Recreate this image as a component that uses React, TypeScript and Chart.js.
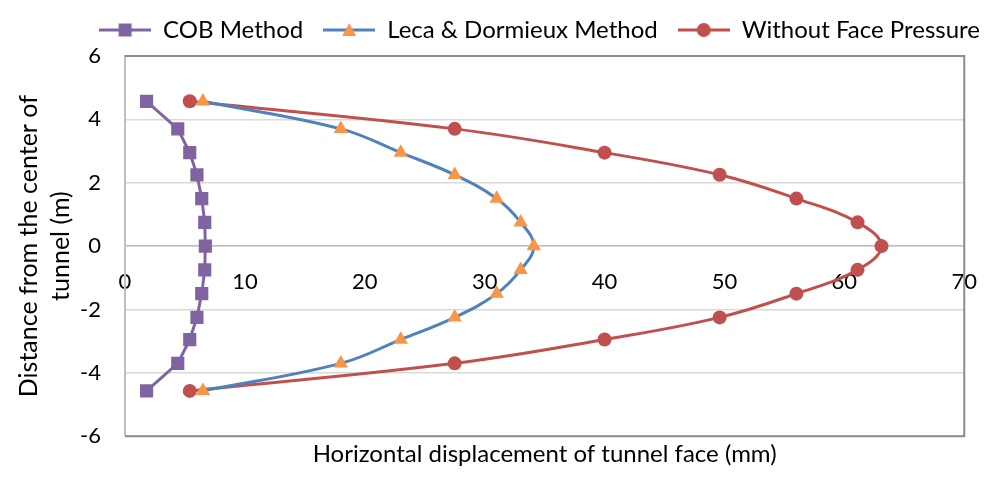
import { useEffect, useRef } from "react";
import { Chart, registerables } from "chart.js";

Chart.register(...registerables);

// Distance from the center of tunnel (m)
const yPositions = [4.57, 3.7, 2.95, 2.25, 1.5, 0.75, 0, -0.75, -1.5, -2.25, -2.95, -3.7, -4.57];
// Horizontal displacement of tunnel face (mm)
const cobValues = [1.8, 4.4, 5.4, 6.0, 6.4, 6.65, 6.7, 6.65, 6.4, 6.0, 5.4, 4.4, 1.8];
const lecaValues = [6.5, 18.0, 23.0, 27.5, 31.0, 33.0, 34.1, 33.0, 31.0, 27.5, 23.0, 18.0, 6.5];
const withoutValues = [5.4, 27.5, 40.0, 49.6, 56.0, 61.1, 63.1, 61.1, 56.0, 49.6, 40.0, 27.5, 5.4];

const seriesNames = ["COB Method", "Leca & Dormieux Method", "Without Face Pressure"];
const xTitle = "Horizontal displacement of tunnel face (mm)";
const yTitle = ["Distance from the center of", "tunnel (m)"];
const xRange = [0, 70, 10];
const yRange = [-6, 6, 2];

const PURPLE = "#8064A2";
const BLUE = "#4F81BD";
const ORANGE = "#F79646";
const RED = "#C0504D";
const FONT = "Lato";

function makeIcon(kind: string): HTMLCanvasElement {
  const c = document.createElement("canvas");
  c.width = 52;
  c.height = 16;
  const g = c.getContext("2d")!;
  const lineColor = kind === "rect" ? PURPLE : kind === "triangle" ? BLUE : RED;
  g.strokeStyle = lineColor;
  g.lineWidth = 3;
  g.beginPath();
  g.moveTo(0, 8);
  g.lineTo(52, 8);
  g.stroke();
  if (kind === "rect") {
    g.fillStyle = PURPLE;
    g.fillRect(26 - 6.5, 8 - 6.5, 13, 13);
  } else if (kind === "triangle") {
    g.fillStyle = ORANGE;
    g.beginPath();
    g.moveTo(26, 1);
    g.lineTo(33, 14);
    g.lineTo(19, 14);
    g.closePath();
    g.fill();
  } else {
    g.fillStyle = RED;
    g.beginPath();
    g.arc(26, 8, 7, 0, Math.PI * 2);
    g.fill();
  }
  return c;
}

const framePlugin = {
  id: "plotFrame",
  beforeDatasetsDraw(chart: any) {
    const { ctx, chartArea } = chart;
    const { left, top, right, bottom } = chartArea;
    ctx.save();
    ctx.strokeStyle = "#8C8C8C";
    ctx.lineWidth = 2;
    ctx.beginPath();
    ctx.moveTo(left, top);
    ctx.lineTo(right, top);
    ctx.lineTo(right, bottom);
    ctx.lineTo(left, bottom);
    ctx.stroke();
    ctx.restore();
  },
};

const spacerAxis = (position: string, size: number) => ({
  type: "linear",
  position,
  display: true,
  ticks: { display: false },
  grid: { display: false, drawTicks: false },
  border: { display: false },
  afterFit: (scale: any) => {
    if (position === "right") scale.width = size;
    else scale.height = size;
  },
});

export default function App() {
  const canvasRef = useRef<HTMLCanvasElement | null>(null);

  useEffect(() => {
    if (!canvasRef.current) return;
    const icons = [makeIcon("rect"), makeIcon("triangle"), makeIcon("circle")];
    const toPoints = (xs: number[]) => xs.map((x, i) => ({ x, y: yPositions[i] }));

    const chart = new Chart(canvasRef.current, {
      type: "scatter",
      data: {
        datasets: [
          {
            label: seriesNames[0],
            data: toPoints(cobValues),
            showLine: true,
            borderColor: PURPLE,
            backgroundColor: PURPLE,
            borderWidth: 3,
            tension: 0,
            pointStyle: "rect",
            pointRadius: 9.3,
            pointBorderWidth: 0,
            pointBackgroundColor: PURPLE,
            pointBorderColor: PURPLE,
          },
          {
            label: seriesNames[1],
            data: toPoints(lecaValues),
            showLine: true,
            borderColor: BLUE,
            backgroundColor: ORANGE,
            borderWidth: 3,
            tension: 0.4,
            pointStyle: "triangle",
            pointRadius: 8.3,
            pointBorderWidth: 0,
            pointBackgroundColor: ORANGE,
            pointBorderColor: ORANGE,
          },
          {
            label: seriesNames[2],
            data: toPoints(withoutValues),
            showLine: true,
            borderColor: RED,
            backgroundColor: RED,
            borderWidth: 3,
            tension: 0.4,
            pointStyle: "circle",
            pointRadius: 7,
            pointBorderWidth: 0,
            pointBackgroundColor: RED,
            pointBorderColor: RED,
          },
        ],
      },
      options: {
        animation: false,
        responsive: true,
        maintainAspectRatio: false,
        devicePixelRatio: 1,
        layout: { padding: { top: -2, right: 0, bottom: 0, left: 0 } },
        scales: {
          x: {
            type: "linear",
            position: { y: 0 } as any,
            min: xRange[0],
            max: xRange[1],
            ticks: {
              stepSize: xRange[2],
              padding: 23,
              color: "#000",
              font: { family: FONT, size: 22 },
            },
            grid: { display: false, drawTicks: false },
            border: { display: true, color: "#BFBFBF", width: 1.5 },
          },
          y: {
            type: "linear",
            min: yRange[0],
            max: yRange[1],
            afterFit: (scale: any) => {
              scale.width = 125;
            },
            ticks: {
              stepSize: yRange[2],
              padding: 24,
              color: "#000",
              font: { family: FONT, size: 22 },
            },
            grid: { color: "#D9D9D9", lineWidth: 1.5, drawTicks: false },
            border: { display: true, color: "#BFBFBF", width: 2 },
            title: {
              display: true,
              text: yTitle,
              color: "#000",
              font: { family: FONT, size: 25, lineHeight: 1.28 },
              padding: { top: 13, bottom: 0 },
            },
          },
          rightSpace: spacerAxis("right", 34) as any,
          topSpace: spacerAxis("top", 4) as any,
        },
        plugins: {
          legend: {
            position: "top",
            align: "end",
            labels: {
              usePointStyle: true,
              pointStyleWidth: 52,
              boxHeight: 16,
              padding: 20,
              color: "#000",
              font: { family: FONT, size: 24 },
              generateLabels: (ch: any) =>
                ch.data.datasets.map((ds: any, i: number) => ({
                  text: ds.label,
                  pointStyle: icons[i],
                  fillStyle: "transparent",
                  strokeStyle: "transparent",
                  lineWidth: 0,
                  fontColor: "#000",
                  hidden: !ch.isDatasetVisible(i),
                  datasetIndex: i,
                })),
            },
          },
          title: {
            display: true,
            position: "bottom",
            fullSize: false,
            text: xTitle,
            color: "#000",
            font: { family: FONT, size: 24, weight: "normal" },
            padding: { top: 4, bottom: 11 },
          },
          tooltip: { enabled: false },
        },
      },
      plugins: [framePlugin],
    });
    return () => chart.destroy();
  }, []);

  return (
    <div style={{ position: "absolute", left: 0, top: 0, width: 1000, height: 480, background: "#fff" }}>
      <canvas ref={canvasRef} />
    </div>
  );
}
